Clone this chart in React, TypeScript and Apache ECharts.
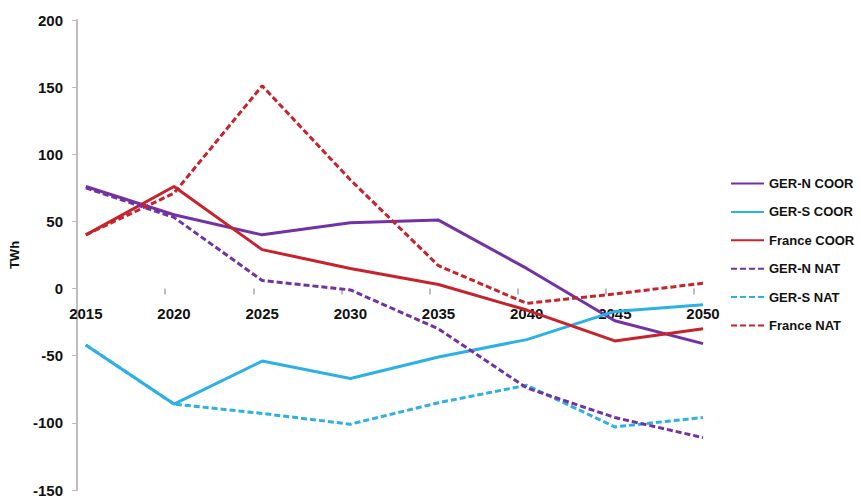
import React, { useEffect, useRef } from "react";
import * as echarts from "echarts";

const years = [2015, 2020, 2025, 2030, 2035, 2040, 2045, 2050];
const gerNCoor = [76, 55, 40, 49, 51, 15, -24, -41];
const gerSCoor = [-42, -86, -54, -67, -51, -38, -17, -12];
const franceCoor = [40, 76, 29, 15, 3, -16, -39, -30];
const gerNNat = [75, 53, 6, -1, -30, -74, -96, -111];
const gerSNat = [-42, -86, -93, -101, -85, -72, -103, -96];
const franceNat = [40, 71, 151, 81, 17, -11, -4, 4];

const PURPLE = "#7332a3";
const BLUE = "#2cb0e6";
const RED = "#c8222c";

export default function App() {
  const ref = useRef<HTMLDivElement>(null);
  useEffect(() => {
    if (!ref.current) return;
    const chart = echarts.init(ref.current, null, { renderer: "svg" });
    const mk = (name: string, vals: number[], color: string, dashed: boolean) => ({
      name,
      type: "line",
      data: years.map((y, i) => [y, vals[i]]),
      showSymbol: false,
      symbol: "none",
      lineStyle: { color, width: 3, type: dashed ? [6, 3] : "solid" },
      itemStyle: { color },
    });
    const top = 20;
    const height = 470;
    const yMin = -150;
    const yMax = 200;
    const zeroOffset = -(height * (0 - yMin)) / (yMax - yMin);
    chart.setOption({
      animation: false,
      backgroundColor: "#ffffff",
      textStyle: { fontFamily: "Liberation Sans" },
      grid: { left: 77, right: 158, top, height, containLabel: false, outerBoundsMode: "none" },
      legend: {
        orient: "vertical",
        left: 730,
        top: 177,
        padding: 0,
        itemWidth: 33,
        itemHeight: 3,
        itemGap: 15.4,
        itemStyle: { opacity: 0 },
        textStyle: { fontSize: 13, fontWeight: "bold", color: "#111" },
        data: ["GER-N COOR", "GER-S COOR", "France COOR", "GER-N NAT", "GER-S NAT", "France NAT"],
      },
      xAxis: {
        type: "value",
        min: 2014.5,
        max: 2050,
        position: "bottom",
        offset: zeroOffset,
        axisLine: { show: false, onZero: false },
        axisTick: {
          show: true,
          customValues: years.slice(1).map((y) => y - 0.5),
          length: 6,
          inside: false,
          lineStyle: { color: "#bdbdbd", width: 2 },
        },
        axisLabel: {
          customValues: years,
          fontSize: 15,
          fontWeight: "bold",
          color: "#111",
          margin: 17,
          formatter: (v: number) => String(v),
        },
        splitLine: { show: false },
      },
      yAxis: {
        type: "value",
        min: yMin,
        max: yMax,
        interval: 50,
        name: "TWh",
        nameLocation: "middle",
        nameRotate: 90,
        nameGap: 56,
        nameTextStyle: { fontSize: 13, fontWeight: "bold", color: "#111" },
        axisLine: { show: true, lineStyle: { color: "#bdbdbd", width: 2 } },
        axisTick: { show: true, length: 5, lineStyle: { color: "#bdbdbd", width: 1 } },
        axisLabel: { fontSize: 15, fontWeight: "bold", color: "#111", margin: 14 },
        splitLine: { show: false },
      },
      series: [
        mk("GER-S NAT", gerSNat, BLUE, true),
        mk("GER-N COOR", gerNCoor, PURPLE, false),
        mk("GER-S COOR", gerSCoor, BLUE, false),
        mk("France COOR", franceCoor, RED, false),
        mk("GER-N NAT", gerNNat, PURPLE, true),
        mk("France NAT", franceNat, RED, true),
      ],
    });
    return () => chart.dispose();
  }, []);
  return (
    <div
      ref={ref}
      style={{ position: "absolute", left: 0, top: 0, width: 861, height: 500 }}
    />
  );
}
